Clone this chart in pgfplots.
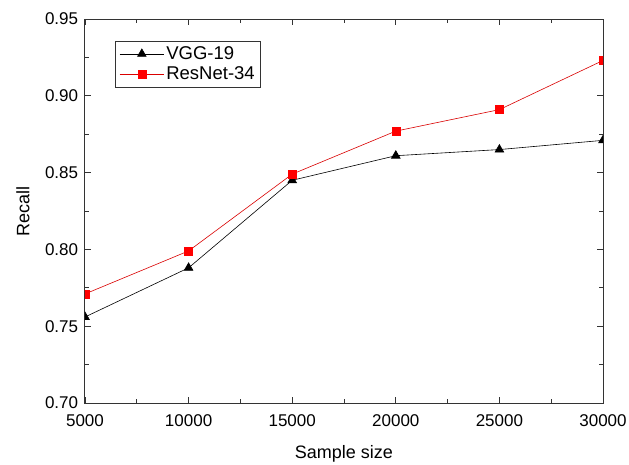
\documentclass[border=0pt]{standalone}
\usepackage{fontspec}
\setmainfont{Liberation Sans}
\usepackage{pgfplots}
\pgfplotsset{compat=1.18}
\begin{document}
\fontsize{17}{20}\selectfont
\begin{tikzpicture}
\begin{axis}[
  scale only axis,
  width=518pt, height=384pt,
  xmin=5000, xmax=30000,
  ymin=0.70, ymax=0.95,
  xtick={5000,10000,...,30000},
  ytick={0.70,0.75,...,0.95},
  scaled ticks=false,
  minor tick num=1,
  tick align=inside,
  major tick length=6pt,
  minor tick length=4pt,
  axis line style={line width=1pt, black!80},
  every tick/.style={line width=0.8pt, black!80},
  /pgf/number format/assume math mode=true,
  xticklabel style={/pgf/number format/1000 sep={}, yshift=-6pt},
  yticklabel style={/pgf/number format/fixed, /pgf/number format/precision=2, /pgf/number format/fixed zerofill, xshift=-1pt},
  tick label style={font=\fontsize{17}{20}\selectfont},
  label style={font=\fontsize{18}{20}\selectfont},
  xlabel={Sample size},
  ylabel={Recall},
  xlabel style={yshift=-7pt},
  ylabel style={yshift=4pt},
  clip marker paths=true,
  legend cell align=left,
  legend style={at={(0.058,0.943)}, anchor=north west, draw=black!80, line width=0.6pt,
    font=\fontsize{18.5}{21}\selectfont, inner xsep=4pt, inner ysep=3pt, row sep=1pt},
  legend image code/.code={
    \draw[mark repeat=2, mark phase=2] plot coordinates {(0cm,0cm) (0.78cm,0cm) (1.56cm,0cm)};
  },
]
\addplot[black, line width=0.6pt, mark=triangle*, mark size=5pt, mark options={solid, fill=black}] coordinates {
  (5000,0.756) (10000,0.788) (15000,0.845) (20000,0.861) (25000,0.865) (30000,0.871)
};
\addplot[red!85!black, line width=0.6pt, mark=square*, mark size=4pt, mark options={solid, fill=red, draw=red}] coordinates {
  (5000,0.771) (10000,0.799) (15000,0.849) (20000,0.877) (25000,0.891) (30000,0.923)
};
\legend{VGG-19, ResNet-34}
\coordinate (ll) at (rel axis cs:0,0);
\coordinate (ur) at (rel axis cs:1,1);
\end{axis}
\pgfresetboundingbox
\path (ll) ++(-85pt,-61pt) coordinate (bba);
\path (ur) ++(26pt,19pt) coordinate (bbb);
\path[use as bounding box] (bba) rectangle (bbb);
\end{tikzpicture}
\end{document}
